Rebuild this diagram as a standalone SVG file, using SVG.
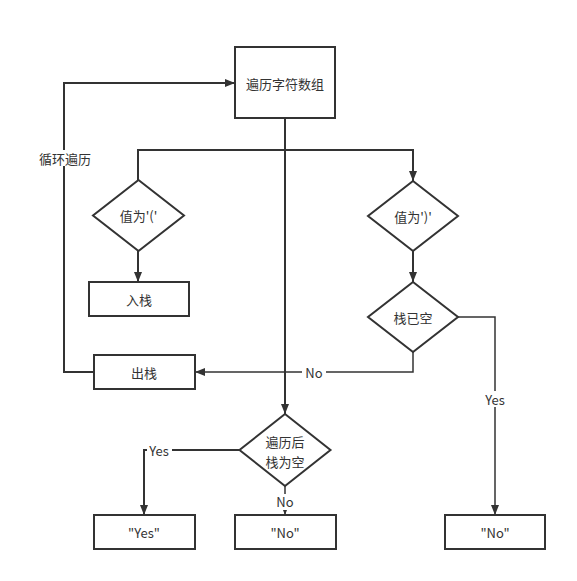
<svg xmlns="http://www.w3.org/2000/svg" width="577" height="581" viewBox="0 0 577 581">
<style>
.n{fill:#fff;stroke:#333;stroke-width:2}
.t{font-family:"Noto Sans CJK SC","Liberation Sans",sans-serif;font-size:13px;fill:#333;text-anchor:middle;dominant-baseline:central}
.c{fill:none;stroke:#333;stroke-width:2}
.c1{fill:none;stroke:#333;stroke-width:1.5}
.lb{fill:#fff}
</style>
<defs>
<marker id="a" viewBox="0 0 10 10" refX="10" refY="5" markerWidth="10" markerHeight="10" markerUnits="userSpaceOnUse" orient="auto">
<path d="M0,1 L10,5 L0,9 Z" fill="#333"/>
</marker>
</defs>
<rect width="577" height="581" fill="#fff"/>
<g id="connectors">
<path class="c" d="M285,118 V414" marker-end="url(#a)"/>
<path class="c" d="M138,180 V150 H413 V181" marker-end="url(#a)"/>
<path class="c" d="M138,251 V282" marker-end="url(#a)"/>
<path class="c" d="M413,251 V282" marker-end="url(#a)"/>
<path class="c1" d="M458,317 H495 V515" marker-end="url(#a)"/>
<path class="c1" d="M413,352 V372 H195" marker-end="url(#a)"/>
<path class="c" d="M94,372 H64 V83 H235" marker-end="url(#a)"/>
<path class="c" d="M240,450 H144 V515" marker-end="url(#a)"/>
<path class="c1" d="M285,486 V515" marker-end="url(#a)"/>
<rect class="lb" x="38" y="150" width="54" height="16"/>
<text class="t" x="65" y="158">循环遍历</text>
<rect class="lb" x="302" y="365" width="24" height="15"/>
<text class="t" x="314" y="372">No</text>
<rect class="lb" x="147" y="443" width="25" height="15"/>
<text class="t" x="159" y="450">Yes</text>
<rect class="lb" x="482" y="391" width="26" height="16"/>
<text class="t" x="495" y="399">Yes</text>
<rect class="lb" x="273" y="494" width="24" height="16"/>
<text class="t" x="285" y="501">No</text>
</g>
<g id="start"><rect class="n" x="235" y="47" width="100" height="71"/><text class="t" x="285" y="83">遍历字符数组</text></g>
<g id="isOpen"><path class="n" d="M138.5,180 L184,215.5 L138.5,251 L93,215.5 Z"/><text class="t" x="138.5" y="215.5">值为'('</text></g>
<g id="push"><rect class="n" x="89" y="282" width="100" height="34"/><text class="t" x="139" y="299">入栈</text></g>
<g id="isClose"><path class="n" d="M413,181 L458,216 L413,251 L368,216 Z"/><text class="t" x="413" y="216">值为')'</text></g>
<g id="isEmpty"><path class="n" d="M413,282 L458,317 L413,352 L368,317 Z"/><text class="t" x="413" y="317">栈已空</text></g>
<g id="pop"><rect class="n" x="94" y="355" width="101" height="34"/><text class="t" x="144" y="372">出栈</text></g>
<g id="finalEmpty"><path class="n" d="M285,414 L330.5,450 L285,486 L239.5,450 Z"/><text class="t" x="285" y="441.5">遍历后</text><text class="t" x="285" y="461">栈为空</text></g>
<g id="yes"><rect class="n" x="94" y="515" width="101" height="34"/><text class="t" x="144" y="532">"Yes"</text></g>
<g id="no1"><rect class="n" x="235" y="515" width="101" height="34"/><text class="t" x="285" y="532">"No"</text></g>
<g id="no2"><rect class="n" x="445" y="515" width="100" height="34"/><text class="t" x="495" y="532">"No"</text></g>
</svg>
